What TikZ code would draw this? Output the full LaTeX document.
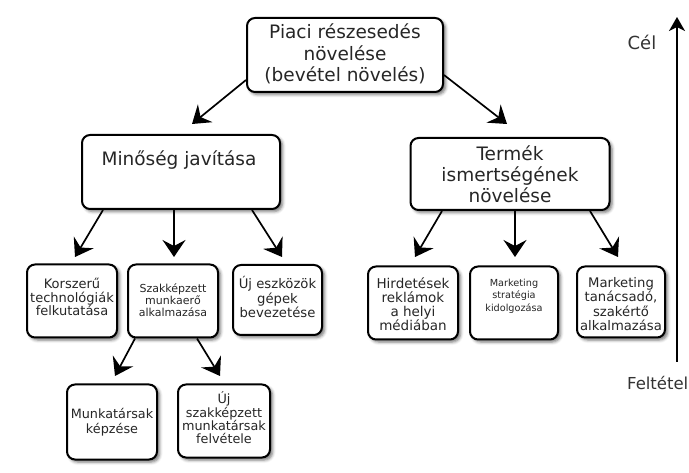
\documentclass[tikz,border=0pt]{standalone}
\usepackage{fontspec}
\setmainfont{DejaVu Sans}
\usetikzlibrary{arrows.meta,shadows.blur}

\tikzset{
  box/.style={draw=black, line width=2pt, rounded corners=8pt, fill=white,
    inner sep=0pt,
    blur shadow={shadow xshift=2.5pt, shadow yshift=-2.5pt,
      shadow blur radius=3pt, shadow opacity=55}},
  lbl/.style={align=center, inner sep=0pt, text=black!85},
  link/.style={line width=1.7pt, -{Stealth[length=17pt,width=23pt,inset=6pt]}},
  axisline/.style={line width=1.4pt, -{Stealth[length=14pt,width=16pt,inset=4pt]}},
}
\newcommand{\fs}[2]{\fontsize{#1}{#2}\selectfont}

\begin{document}
\begin{tikzpicture}[x=1pt,y=-1pt]
  \useasboundingbox (0,0) rectangle (689,473);

  % goal (top) and the two main branches
  \node[box, minimum width=196pt, minimum height=74pt] (goal) at (345,55) {};
  \node[lbl, font=\fs{18.5}{21.5}] (goaltxt) at (345,54) {Piaci részesedés\\növelése\\(bevétel növelés)};

  \node[box, minimum width=198pt, minimum height=74pt] (qual) at (181,172) {};
  \node[lbl, font=\fs{18.5}{21}] (qualtxt) at (179,160) {Minőség javítása};

  \node[box, minimum width=199pt, minimum height=72pt] (prod) at (510,174) {};
  \node[lbl, font=\fs{18.5}{21}] (prodtxt) at (510,174) {Termék\\ismertségének\\növelése};

  % third level, quality side
  \node[box, minimum width=90pt, minimum height=73pt] (tech) at (72,301) {};
  \node[lbl, font=\fs{13}{13.8}] (techtxt) at (72,297) {Korszerű\\technológiák\\felkutatása};

  \node[box, minimum width=90pt, minimum height=73pt] (staff) at (173,301) {};
  \node[lbl, font=\fs{11}{12.2}] (stafftxt) at (173,300) {Szakképzett\\munkaerő\\alkalmazása};

  \node[box, minimum width=89pt, minimum height=70pt] (tools) at (277.5,300) {};
  \node[lbl, font=\fs{13.2}{14.6}] (toolstxt) at (277.5,297) {Új eszközök\\gépek\\bevezetése};

  % third level, product side
  \node[box, minimum width=90pt, minimum height=73pt] (ads) at (413,303) {};
  \node[lbl, font=\fs{13.5}{14.1}] (adstxt) at (413,304) {Hirdetések\\reklámok\\a helyi\\médiában};

  \node[box, minimum width=88pt, minimum height=73pt] (strat) at (514,303) {};
  \node[lbl, font=\fs{9.7}{12.5}] (strattxt) at (514,296) {Marketing\\stratégia\\kidolgozása};

  \node[box, minimum width=88pt, minimum height=71pt] (advice) at (621,302) {};
  \node[lbl, font=\fs{13.2}{14.3}] (advicetxt) at (621,304) {Marketing\\tanácsadó,\\szakértő\\alkalmazása};

  % fourth level
  \node[box, minimum width=90pt, minimum height=75pt] (train) at (112,422) {};
  \node[lbl, font=\fs{12.8}{15}] (traintxt) at (112,422) {Munkatársak\\képzése};

  \node[box, minimum width=92pt, minimum height=73pt] (hire) at (224,421) {};
  \node[lbl, font=\fs{12.8}{13.4}] (hiretxt) at (224,418) {Új\\szakképzett\\munkatársak\\felvétele};

  % connectors (tips stop just short of the boxes)
  \draw[link] ([yshift=-25pt]goal.west) -- ([xshift=11pt,yshift=10pt]qual.north);
  \draw[link] ([yshift=-20pt]goal.east) -- ([xshift=-3pt,yshift=13pt]prod.north);

  \draw[link] ([xshift=-78pt]qual.south) -- ([xshift=3pt,yshift=6.5pt]tech.north);
  \draw[link] ([xshift=-7pt]qual.south) -- ([xshift=1pt,yshift=6.5pt]staff.north);
  \draw[link] ([xshift=71pt]qual.south) -- ([xshift=4.5pt,yshift=7pt]tools.north);

  \draw[link] ([xshift=-68pt]prod.south) -- ([xshift=2pt,yshift=8.5pt]ads.north);
  \draw[link] ([xshift=5pt]prod.south) -- ([xshift=1pt,yshift=8.5pt]strat.north);
  \draw[link] ([xshift=80pt]prod.south) -- ([xshift=-3pt,yshift=8.5pt]advice.north);

  \draw[link] ([xshift=-38pt]staff.south) -- ([xshift=3pt,yshift=7.5pt]train.north);
  \draw[link] ([xshift=24pt]staff.south) -- ([xshift=-4pt,yshift=7.5pt]hire.north);

  % vertical scale from condition to goal
  \coordinate (axbot) at (677,362);
  \coordinate (axtop) at (677,17);
  \draw[axisline] (axbot) -- (axtop);
  \node[lbl, text=black!80, font=\fs{18}{20}] (goallbl) at (642,42) {Cél};
  \node[lbl, text=black!80, anchor=east, font=\fs{16.5}{20}] (condlbl) at (688.5,383) {Feltétel};
\end{tikzpicture}
\end{document}
